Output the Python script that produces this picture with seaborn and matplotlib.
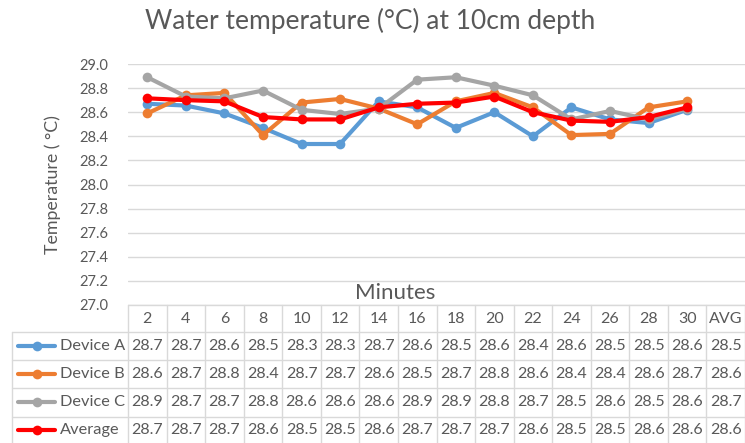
import matplotlib
matplotlib.use('Agg')
import matplotlib.pyplot as plt
import matplotlib.transforms as mtransforms
import numpy as np
import pandas as pd
import seaborn as sns

# data
minutes = ['2', '4', '6', '8', '10', '12', '14', '16', '18', '20', '22', '24', '26', '28', '30']
columns = minutes + ['AVG']
series_names = ['Device A', 'Device B', 'Device C', 'Average']
device_a = [28.67, 28.655, 28.59, 28.47, 28.336, 28.336, 28.69, 28.64, 28.47, 28.60, 28.40, 28.64, 28.54, 28.51, 28.62]
device_b = [28.59, 28.74, 28.76, 28.41, 28.68, 28.71, 28.63, 28.50, 28.69, 28.76, 28.64, 28.41, 28.42, 28.64, 28.69]
device_c = [28.89, 28.73, 28.715, 28.78, 28.62, 28.585, 28.63, 28.87, 28.89, 28.82, 28.74, 28.54, 28.61, 28.54, 28.63]
average = [28.715, 28.70, 28.69, 28.56, 28.54, 28.54, 28.64, 28.67, 28.68, 28.73, 28.60, 28.53, 28.52, 28.56, 28.64]
avg_column = [28.5, 28.6, 28.7, 28.6]
colors = ['#5B9BD5', '#ED7D31', '#A5A5A5', '#FF0000']

rows = []
for name, vals in zip(series_names, [device_a, device_b, device_c, average]):
    for i, v in enumerate(vals):
        rows.append({'idx': i, 'temp': v, 'series': name})
df = pd.DataFrame(rows)

sns.set_style('white')
plt.rcParams['font.family'] = ['Lato', 'DejaVu Sans']
txt = '#595959'
grid = '#D9D9D9'

fig = plt.figure(figsize=(7.45, 4.43), dpi=100)
ax = fig.add_axes([128 / 745, 138 / 443, 617 / 745, 241 / 443])

sns.lineplot(data=df, x='idx', y='temp', hue='series', hue_order=series_names,
             palette=colors, marker='o', markersize=7, markeredgewidth=0,
             linewidth=3, legend=False, ax=ax)

ax.set_xlim(-0.5, 15.5)
ax.set_ylim(27.0, 29.0)
yt = np.arange(27.0, 29.01, 0.2)
ax.set_yticks(yt)
ax.set_yticklabels([f'{t:.1f}' for t in yt], color=txt, fontsize=10.5)
ax.tick_params(axis='y', length=0, pad=14)
ax.set_xticks([])
ax.set_xlabel('')
ax.set_ylabel('Temperature ( °C)', color=txt, fontsize=12.8)
ax.yaxis.set_label_coords(-0.108, 0.5)
ax.yaxis.grid(True, color=grid, lw=1)
for s in ax.spines.values():
    s.set_visible(False)

fig.text(0.497, 0.952, 'Water temperature (°C) at 10cm depth', ha='center', va='center',
         fontsize=19, color=txt)
ax.text((395 - 128) / 617, 0.05, 'Minutes', transform=ax.transAxes,
        ha='center', va='center', fontsize=16, color=txt)

# data table under the plot
tr = mtransforms.blended_transform_factory(ax.transData, fig.transFigure)


def fy(px):
    return (443 - px) / 443


kw = dict(transform=tr, clip_on=False, color=grid, lw=1)
ax.plot([-0.5, 15.5], [fy(305), fy(305)], **kw)
for py in [332, 360, 388, 417]:
    ax.plot([-3.5, 15.5], [fy(py), fy(py)], **kw)
for k in range(17):
    ax.plot([k - 0.5, k - 0.5], [fy(305), fy(450)], **kw)
ax.plot([-3.5, -3.5], [fy(332), fy(450)], **kw)

for i, c in enumerate(columns):
    ax.text(i, fy(319), c, transform=tr, ha='center', va='center', fontsize=11.5, color=txt)

row_y = [346, 374, 402, 430]
for name, vals, avg, col, py in zip(series_names, [device_a, device_b, device_c, average],
                                    avg_column, colors, row_y):
    ax.plot([-3.35, -2.39], [fy(py), fy(py)], transform=tr, clip_on=False, color=col, lw=3)
    ax.plot([-2.87], [fy(py)], transform=tr, clip_on=False, color=col, marker='o',
            markersize=7, markeredgewidth=0)
    ax.text(-2.26, fy(py), name, transform=tr, ha='left', va='center', fontsize=11.8, color=txt)
    for i, v in enumerate(vals + [avg]):
        ax.text(i, fy(py), f'{v:.1f}', transform=tr, ha='center', va='center',
                fontsize=11.5, color=txt)

fig.savefig('out.png', dpi=100)
